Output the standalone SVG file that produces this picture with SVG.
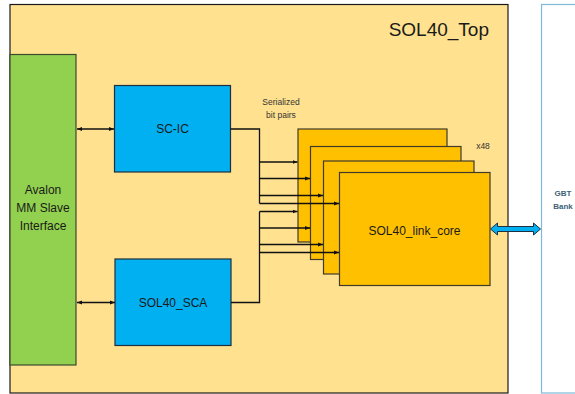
<svg xmlns="http://www.w3.org/2000/svg" width="575" height="394" viewBox="0 0 575 394">
<style>
text{font-family:"Liberation Sans",Arial,sans-serif;fill:#1a1a1a}
.lbl{font-size:12px;text-anchor:middle}
.small{font-size:8.5px;text-anchor:middle;fill:#333}
.core{fill:#ffc000;stroke:#3f3a2a;stroke-width:1.2}
.blue{fill:#00b0f0;stroke:#1f2f3f;stroke-width:1.2}
.wire{fill:none;stroke:#111;stroke-width:1.3}
</style>
<defs>
<marker id="ah" viewBox="0 0 10 10" refX="10" refY="5" markerWidth="5" markerHeight="5" orient="auto-start-reverse" markerUnits="userSpaceOnUse">
<path d="M0,1 L10,5 L0,9 z" fill="#111"/>
</marker>
</defs>
<g id="sol40_top">
<rect x="10" y="4.5" width="498" height="388.5" fill="#ffe18f" stroke="#1a1a1a" stroke-width="1.2"/>
<text x="489" y="36" font-size="19" text-anchor="end">SOL40_Top</text>
</g>
<g id="gbt_bank">
<rect x="541.5" y="4.5" width="40" height="388.5" fill="#fff" stroke="#7cbad6" stroke-width="1.2"/>
<text x="563" y="196" font-size="8" font-weight="bold" text-anchor="middle" style="fill:#3e6176">GBT</text>
<text x="563" y="209" font-size="8" font-weight="bold" text-anchor="middle" style="fill:#3e6176">Bank</text>
</g>
<g id="avalon">
<rect x="10" y="54.5" width="66" height="310.5" fill="#92d050" stroke="#3d4a2e" stroke-width="1.2"/>
<text class="lbl" x="43" y="194">Avalon</text>
<text class="lbl" x="43" y="212">MM Slave</text>
<text class="lbl" x="43" y="230">Interface</text>
</g>
<g id="sc_ic">
<rect class="blue" x="114.5" y="85.5" width="116" height="86.5"/>
<text class="lbl" x="172.5" y="133">SC-IC</text>
</g>
<g id="sol40_sca">
<rect class="blue" x="115" y="259" width="116" height="86.5"/>
<text class="lbl" x="173" y="307">SOL40_SCA</text>
</g>
<g id="serialized_label">
<text class="small" x="281" y="105">Serialized</text>
<text class="small" x="281" y="117.5">bit pairs</text>
</g>
<g id="link_core">
<rect class="core" x="298" y="129" width="149" height="113"/>
<rect class="core" x="310.5" y="146.5" width="150.5" height="113"/>
<rect class="core" x="323.5" y="161" width="150.5" height="113"/>
<rect class="core" x="339.5" y="172.5" width="150.5" height="113"/>
<text class="lbl" x="414.5" y="235">SOL40_link_core</text>
<text class="small" x="483" y="149">x48</text>
</g>
<g id="connectors">
<line class="wire" x1="77" y1="129" x2="114" y2="129" marker-start="url(#ah)" marker-end="url(#ah)"/>
<line class="wire" x1="77" y1="302.5" x2="115" y2="302.5" marker-start="url(#ah)" marker-end="url(#ah)"/>
<polyline class="wire" points="230.5,129 259.5,129 259.5,203.5"/>
<line class="wire" x1="259.5" y1="162" x2="297.5" y2="162" marker-end="url(#ah)"/>
<line class="wire" x1="259.5" y1="178.5" x2="310" y2="178.5" marker-end="url(#ah)"/>
<line class="wire" x1="259.5" y1="195.5" x2="323" y2="195.5" marker-end="url(#ah)"/>
<line class="wire" x1="259.5" y1="203.5" x2="339" y2="203.5" marker-end="url(#ah)"/>
<polyline class="wire" points="231,302.5 259.5,302.5 259.5,211.5"/>
<line class="wire" x1="259.5" y1="211.5" x2="297.5" y2="211.5" marker-end="url(#ah)"/>
<line class="wire" x1="259.5" y1="228" x2="310" y2="228" marker-end="url(#ah)"/>
<line class="wire" x1="259.5" y1="244.5" x2="323" y2="244.5" marker-end="url(#ah)"/>
<line class="wire" x1="259.5" y1="252.5" x2="339" y2="252.5" marker-end="url(#ah)"/>
<path d="M490.5,229 L497.5,223 L497.5,226.5 L533.5,226.5 L533.5,223 L540.5,229 L533.5,235 L533.5,231.5 L497.5,231.5 L497.5,235 Z" fill="#00b0f0" stroke="#1f2f3f" stroke-width="1"/>
</g>
</svg>
